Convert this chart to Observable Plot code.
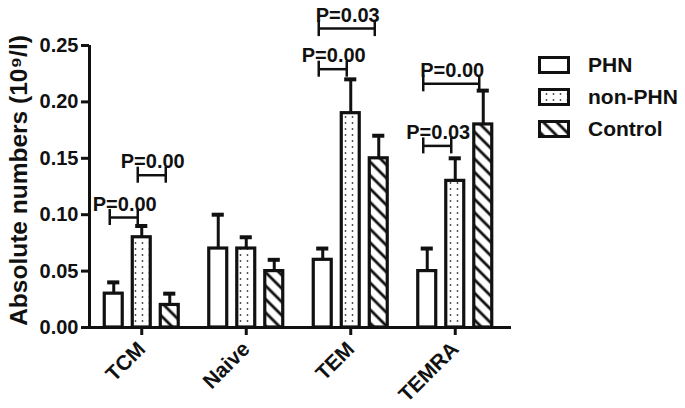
<!DOCTYPE html>
<html>
<head>
<meta charset="utf-8">
<script src="https://cdn.jsdelivr.net/npm/d3@7"></script>
<script src="https://cdn.jsdelivr.net/npm/@observablehq/plot@0.6"></script>
<style>
  html, body { margin: 0; padding: 0; background: #fff; }
  #wrap { position: relative; width: 685px; height: 408px; font-family: "Liberation Sans", Arial, sans-serif; }
</style>
</head>
<body>
<div id="wrap"></div>
<script>
// ---- data ----
const categories = ["TCM", "Naive", "TEM", "TEMRA"];
const groups = ["PHN", "non-PHN", "Control"];
const phnMean = [0.03, 0.07, 0.06, 0.05];
const phnErr = [0.01, 0.03, 0.01, 0.02];
const nonPhnMean = [0.08, 0.07, 0.19, 0.13];
const nonPhnErr = [0.01, 0.01, 0.03, 0.02];
const controlMean = [0.02, 0.05, 0.15, 0.18];
const controlErr = [0.01, 0.01, 0.02, 0.03];
const yTicks = [0, 0.05, 0.10, 0.15, 0.20, 0.25];
const bracketCat = ["TCM", "TCM", "TEM", "TEM", "TEMRA", "TEMRA"];
const bracketFrom = ["PHN", "non-PHN", "PHN", "PHN", "PHN", "PHN"];
const bracketTo = ["non-PHN", "Control", "non-PHN", "Control", "non-PHN", "Control"];
const bracketY = [0.0975, 0.135, 0.229, 0.265, 0.161, 0.216];
const bracketLabel = ["P=0.00", "P=0.00", "P=0.00", "P=0.03", "P=0.03", "P=0.00"];
const yLabel = "Absolute numbers (10\u2079/l)";

// ---- derived tables ----
const means = [phnMean, nonPhnMean, controlMean];
const errs = [phnErr, nonPhnErr, controlErr];
const rows = categories.flatMap((c, ci) => groups.map((g, gi) => ({
  cat: c, group: g, value: means[gi][ci], err: errs[gi][ci]
})));
const brackets = bracketCat.map((c, i) => ({
  cat: c, from: bracketFrom[i], to: bracketTo[i], y: bracketY[i], label: bracketLabel[i]
}));

// layout constants (in x-scale units; one category = 1 unit)
const groupStep = 0.268, barHalf = 0.086, capHalf = 0.058;
const center = (cat, group) => categories.indexOf(cat) + (groups.indexOf(group) - 1) * groupStep;
const fills = {"PHN": "white", "non-PHN": "url(#dots)", "Control": "url(#hatch)"};
const ink = "#111";
const FONT = "'Liberation Sans', Arial, sans-serif";

const bracketEnds = brackets.flatMap(b => [{cat: b.cat, g: b.from, y: b.y}, {cat: b.cat, g: b.to, y: b.y}]);

const chart = Plot.plot({
  width: 685,
  height: 408,
  marginTop: 45,
  marginBottom: 81,
  marginLeft: 89,
  marginRight: 178,
  style: {fontFamily: FONT, color: ink, background: "white"},
  x: {type: "linear", domain: [-0.5, 3.5]},
  y: {domain: [0, 0.25]},
  marks: [
    Plot.rectY(rows, {
      x1: d => center(d.cat, d.group) - barHalf,
      x2: d => center(d.cat, d.group) + barHalf,
      y1: 0, y2: "value",
      fill: d => fills[d.group],
      stroke: ink, strokeWidth: 3.2
    }),
    Plot.ruleX(rows, {
      x: d => center(d.cat, d.group), y1: "value", y2: d => d.value + d.err,
      stroke: ink, strokeWidth: 3
    }),
    Plot.ruleY(rows, {
      y: d => d.value + d.err,
      x1: d => center(d.cat, d.group) - capHalf,
      x2: d => center(d.cat, d.group) + capHalf,
      stroke: ink, strokeWidth: 4
    }),
    Plot.ruleY(brackets, {
      y: "y", x1: d => center(d.cat, d.from), x2: d => center(d.cat, d.to),
      dx: -4, stroke: ink, strokeWidth: 2.5
    }),
    Plot.ruleX(bracketEnds, {
      x: d => center(d.cat, d.g), y1: "y", y2: "y", insetTop: -8, insetBottom: -8,
      dx: -4, stroke: ink, strokeWidth: 2.5
    }),
    Plot.text(brackets, {
      x: d => (center(d.cat, d.from) + center(d.cat, d.to)) / 2, y: "y", text: "label",
      dx: -3, dy: -7, lineAnchor: "bottom", fontSize: 20, fontWeight: "bold", fill: ink
    }),
    Plot.ruleY([0], {stroke: ink, strokeWidth: 3, insetRight: -4}),
    Plot.ruleX([-0.5], {stroke: ink, strokeWidth: 3}),
    Plot.axisY({
      ticks: yTicks, tickFormat: d3.format(".2f"), tickSize: 8, tickPadding: 3,
      fontSize: 20, fontWeight: "bold", strokeWidth: 3, stroke: ink, fill: ink, label: null
    }),
    Plot.axisX({
      ticks: categories.map((c, i) => i), tickFormat: i => categories[i],
      tickRotate: -45, tickSize: 8, tickPadding: 10,
      fontSize: 21, fontWeight: "bold", strokeWidth: 3, stroke: ink, fill: ink, label: null
    }),
    Plot.text([yLabel], {
      frameAnchor: "left", text: d => d, rotate: -90, textAnchor: "middle",
      dx: -70, dy: -6, fontSize: 24.5, fontWeight: "bold", fill: ink
    })
  ]
});

const wrap = document.getElementById("wrap");
wrap.appendChild(chart);

// ---- legend (with pattern defs) ----
const leg = d3.select(wrap).append("svg")
  .attr("width", 155).attr("height", 110)
  .style("position", "absolute").style("left", "530px").style("top", "40px")
  .style("overflow", "visible");
const defs = leg.append("defs");
const dots = defs.append("pattern").attr("id", "dots").attr("patternUnits", "userSpaceOnUse")
  .attr("width", 7).attr("height", 6);
dots.append("rect").attr("width", 7).attr("height", 6).attr("fill", "white");
dots.append("circle").attr("cx", 2.5).attr("cy", 3).attr("r", 0.9).attr("fill", "#444");
const hatch = defs.append("pattern").attr("id", "hatch").attr("patternUnits", "userSpaceOnUse")
  .attr("width", 9.5).attr("height", 9.5).attr("patternTransform", "rotate(45)");
hatch.append("rect").attr("width", 9.5).attr("height", 9.5).attr("fill", "white");
hatch.append("line").attr("x1", 0).attr("x2", 9.5).attr("y1", 4.75).attr("y2", 4.75)
  .attr("stroke", ink).attr("stroke-width", 2.8);

const item = leg.selectAll("g.item").data(groups).join("g")
  .attr("transform", (d, i) => `translate(0,${25 + i * 32})`);
item.append("rect").attr("x", 9.5).attr("y", -7.5).attr("width", 29).attr("height", 15)
  .attr("fill", d => fills[d]).attr("stroke", ink).attr("stroke-width", 3);
item.append("text").attr("x", 58).attr("y", 0).attr("dy", "0.35em")
  .attr("font-family", FONT).attr("font-size", 21).attr("font-weight", "bold")
  .attr("fill", ink).text(d => d);
</script>
</body>
</html>
